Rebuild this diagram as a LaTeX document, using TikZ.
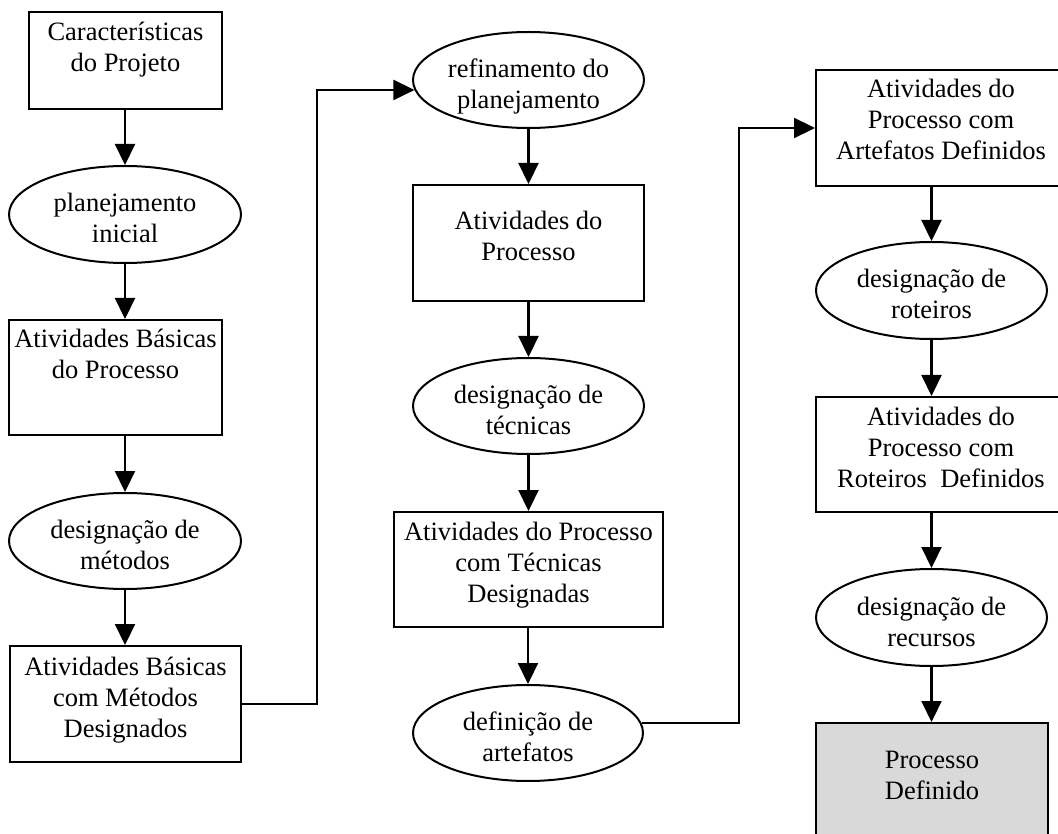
\documentclass[tikz,border=0pt]{standalone}
\usepackage{fontspec}
\setmainfont{Liberation Serif}
\usetikzlibrary{arrows.meta,shapes.geometric}
\definecolor{donegray}{HTML}{D9D9D9}
% text block of a fixed size: #1 width, #2 height, #3 distance from top to first baseline;
% the lines are set in a wide box so that they never wrap, and centred on #1
\newcommand\ntext[4]{\makebox[#1]{\parbox[c][#2][t]{400pt}{\fontsize{26.5}{31}\selectfont\centering
  \vspace*{\dimexpr#3-21.7pt\relax}\strut#4\par}}}
\tikzset{
  stepbox/.style={draw, rectangle, line width=2pt, inner sep=0pt},
  stepoval/.style={draw, ellipse, line width=2pt, inner sep=0pt},
  flow/.style={line width=2.2pt, -{Triangle[width=20pt,length=21pt]}},
}
\begin{document}
\begin{tikzpicture}[x=1pt, y=-1pt]
\useasboundingbox (0,0) rectangle (1058,834);

% first column
\node[stepbox] (n1) at (125.5,60.5) {\ntext{193pt}{97pt}{29pt}{Características\\do Projeto}};
\node[stepoval, minimum width=232pt, minimum height=97pt] (e1) at (125,214.5)
  {\ntext{150pt}{66pt}{30.5pt}{planejamento\\inicial}};
\node[stepbox] (n2) at (115.5,377.5) {\ntext{213pt}{115pt}{28pt}{Atividades Básicas\\do Processo}};
\node[stepoval, minimum width=232pt, minimum height=96pt] (e2) at (125,541)
  {\ntext{150pt}{66pt}{30.5pt}{designação de\\métodos}};
\node[stepbox] (n3) at (125.5,704) {\ntext{231pt}{116pt}{29pt}{Atividades Básicas\\com Métodos\\Designados}};

% second column
\node[stepoval, minimum width=231pt, minimum height=96pt] (e3) at (528.5,80)
  {\ntext{150pt}{66pt}{30.5pt}{refinamento do\\planejamento}};
\node[stepbox] (n4) at (528.5,243) {\ntext{231pt}{116pt}{45pt}{Atividades do\\Processo}};
\node[stepoval, minimum width=231pt, minimum height=96pt] (e4) at (528.5,406)
  {\ntext{150pt}{66pt}{30.5pt}{designação de\\técnicas}};
\node[stepbox] (n5) at (528.5,569.5) {\ntext{269pt}{115pt}{28pt}{Atividades do Processo\\com Técnicas\\Designadas}};
\node[stepoval, minimum width=230pt, minimum height=96pt] (e5) at (528,733)
  {\ntext{150pt}{66pt}{30.5pt}{definição de\\artefatos}};

% third column
\node[stepbox] (n6) at (941,128) {\ntext{250pt}{116pt}{28pt}{Atividades do\\Processo com\\Artefatos Definidos}};
\node[stepoval, minimum width=231pt, minimum height=97pt] (e6) at (931.5,290.5)
  {\ntext{150pt}{66pt}{30.5pt}{designação de\\roteiros}};
\node[stepbox] (n7) at (941,454.5) {\ntext{250pt}{115pt}{28pt}{Atividades do\\Processo com\\Roteiros\ \ Definidos}};
\node[stepoval, minimum width=231pt, minimum height=97pt] (e7) at (931.5,617.5)
  {\ntext{150pt}{66pt}{30.5pt}{designação de\\recursos}};
\node[stepbox, fill=donegray] (n8) at (932,781) {\ntext{232pt}{116pt}{45pt}{Processo\\Definido}};

% vertical flow inside the columns
\draw[flow] (e1.north |- n1.south) -- (e1.north);
\draw[flow] (e1.south) -- (e1.south |- n2.north);
\draw[flow] (e2.north |- n2.south) -- (e2.north);
\draw[flow] (e2.south) -- (e2.south |- n3.north);

\draw[flow] (e3.south) -- (e3.south |- n4.north);
\draw[flow] (e4.north |- n4.south) -- (e4.north);
\draw[flow] (e4.south) -- (e4.south |- n5.north);
\draw[flow] (e5.north |- n5.south) -- (e5.north);

\draw[flow] (e6.north |- n6.south) -- (e6.north);
\draw[flow] (e6.south) -- (e6.south |- n7.north);
\draw[flow] (e7.north |- n7.south) -- (e7.north);
\draw[flow] (e7.south) -- (e7.south |- n8.north);

% links between the columns
\coordinate (k1) at (317,0);
\coordinate (k2) at (739,0);
\draw[flow] (n3.east) -| (e3.185 -| k1) -- (e3.185);
\draw[flow] (e5.5) -- (e5.5 -| k2) |- (n6.west);
\end{tikzpicture}
\end{document}
